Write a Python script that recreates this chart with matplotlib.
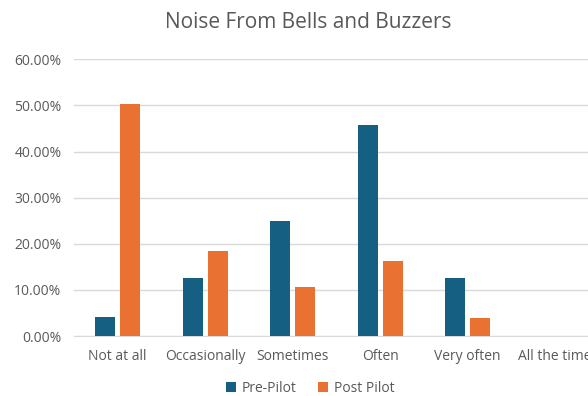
import matplotlib
matplotlib.use("Agg")
import matplotlib.pyplot as plt
import numpy as np
from matplotlib.ticker import PercentFormatter

categories = ["Not at all", "Occasionally", "Sometimes", "Often", "Very often", "All the time"]
pre_pilot = [4.17, 12.5, 25.0, 45.83, 12.5, 0.0]
post_pilot = [50.4, 18.4, 10.6, 16.3, 4.0, 0.0]
series_names = ["Pre-Pilot", "Post Pilot"]
yticks = [0, 10, 20, 30, 40, 50, 60]

BLUE = "#156082"
ORANGE = "#E97132"
TEXT = "#595959"
GRID = "#D9D9D9"

plt.rcParams["font.family"] = ["Open Sans", "DejaVu Sans"]

fig = plt.figure(figsize=(5.88, 3.96), dpi=100)
ax = fig.add_axes([74 / 588, 1 - 336 / 396, (599 - 74) / 588, (336 - 59.3) / 396])

x = np.arange(len(categories))
w = 0.225
off = 0.143
ax.bar(x - off, pre_pilot, width=w, color=BLUE, label=series_names[0], zorder=3)
ax.bar(x + off, post_pilot, width=w, color=ORANGE, label=series_names[1], zorder=3)

ax.set_xlim(-0.5, len(categories) - 0.5)
ax.set_ylim(0, 60)
ax.set_yticks(yticks)
ax.yaxis.set_major_formatter(PercentFormatter(decimals=2))
ax.set_xticks(x)
ax.set_xticklabels(categories)
ax.grid(axis="y", color=GRID, linewidth=1, zorder=0)
for s in ["top", "right", "left"]:
    ax.spines[s].set_visible(False)
ax.spines["bottom"].set_color(GRID)
ax.tick_params(axis="both", length=0, colors=TEXT, labelsize=10)
ax.tick_params(axis="y", pad=9)
ax.tick_params(axis="x", pad=9)

fig.text(308 / 588, 1 - 22 / 396, "Noise From Bells and Buzzers", ha="center", va="center",
         fontsize=15, color=TEXT)

fig.legend(loc="center", bbox_to_anchor=(310 / 588, 1 - 388 / 396), ncol=2, frameon=False,
           fontsize=10, handlelength=0.7, handleheight=0.7, handletextpad=0.4,
           columnspacing=1.6, labelcolor=TEXT)

fig.savefig("out.png", dpi=100)
